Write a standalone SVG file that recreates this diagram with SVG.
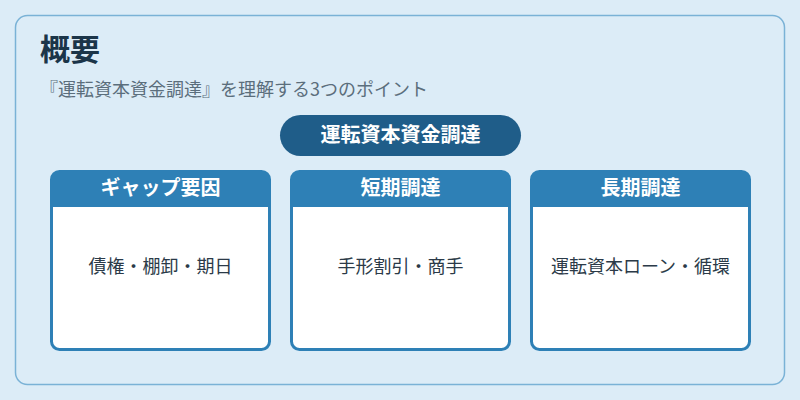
<svg xmlns="http://www.w3.org/2000/svg" width="800" height="400" viewBox="0 0 800 400">
<style>
text{font-family:"Noto Sans CJK JP","Noto Sans",sans-serif}
.card{fill:#ffffff;stroke:#2e80b6;stroke-width:3}
.hdr{fill:#2e80b6}
.ht{fill:#ffffff;font-size:20px;font-weight:bold;text-anchor:middle}
.bt{fill:#2b3a48;font-size:18px;text-anchor:middle}
</style>
<rect x="0" y="0" width="800" height="400" fill="#dcecf7"/>
<rect x="15.5" y="15.5" width="769" height="369" rx="12" fill="#dcecf7" stroke="#7ab2d6" stroke-width="1.5"/>
<text x="40" y="60" font-size="30" font-weight="bold" fill="#1b3549">概要</text>
<text x="40" y="96" font-size="18" fill="#5b6e7c">『運転資本資金調達』を理解する3つのポイント</text>
<g id="root">
<rect x="280" y="115" width="241" height="41" rx="20.5" fill="#1f5d89"/>
<text x="400.5" y="142" class="ht">運転資本資金調達</text>
</g>
<g id="connectors"></g>
<g id="card1">
<rect x="51.5" y="171.5" width="218" height="178" rx="8" class="card"/>
<path d="M51.5 207 V179.5 a8 8 0 0 1 8 -8 H261.5 a8 8 0 0 1 8 8 V207 Z" class="hdr"/>
<text x="160.5" y="195" class="ht">ギャップ要因</text>
<text x="160.5" y="273" class="bt">債権・棚卸・期日</text>
</g>
<g id="card2">
<rect x="291.5" y="171.5" width="218" height="178" rx="8" class="card"/>
<path d="M291.5 207 V179.5 a8 8 0 0 1 8 -8 H501.5 a8 8 0 0 1 8 8 V207 Z" class="hdr"/>
<text x="400.5" y="195" class="ht">短期調達</text>
<text x="400.5" y="273" class="bt">手形割引・商手</text>
</g>
<g id="card3">
<rect x="531.5" y="171.5" width="218" height="178" rx="8" class="card"/>
<path d="M531.5 207 V179.5 a8 8 0 0 1 8 -8 H741.5 a8 8 0 0 1 8 8 V207 Z" class="hdr"/>
<text x="640.5" y="195" class="ht">長期調達</text>
<text x="640.5" y="273" class="bt">運転資本ローン・循環</text>
</g>
</svg>
